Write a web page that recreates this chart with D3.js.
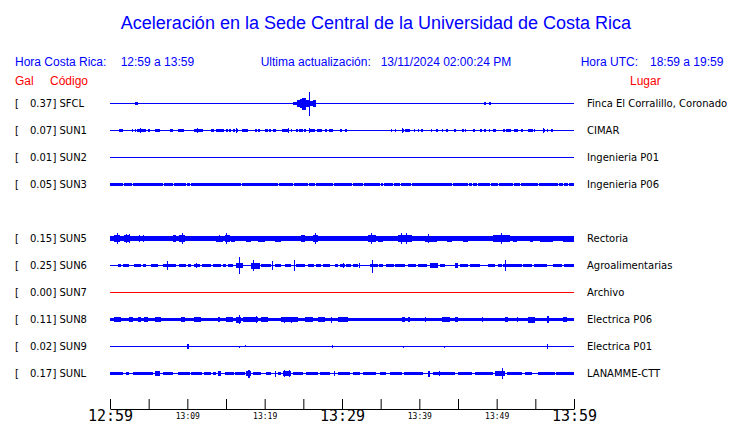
<!DOCTYPE html>
<html><head><meta charset="utf-8">
<script src="https://cdn.jsdelivr.net/npm/d3@7"></script>
<style>body{margin:0;background:#fff}svg{display:block}</style>
</head><body><svg id="c" width="740" height="423"></svg>
<script>
// ---- data ----
const codes   = ["SFCL","SUN1","SUN2","SUN3","SUN4","SUN5","SUN6","SUN7","SUN8","SUN9","SUNL"];
const peakGal = [0.37, 0.07, 0.01, 0.05, null, 0.15, 0.25, 0.00, 0.11, 0.02, 0.17];
const places  = ["Finca El Corralillo, Coronado","CIMAR","Ingenieria P01","Ingenieria P06",null,
                 "Rectoria","Agroalimentarias","Archivo","Electrica P06","Electrica P01","LANAMME-CTT"];
const baseGal = [0.017,0.017,0.017,0.055,null,0.075,0.017,0.017,0.057,0.017,0.017];
const traceColor = ["blue","blue","blue","blue",null,"blue","blue","red","blue","blue","blue"];
// events: [startMin, endMin, ampUpGal, ampDownGal?]  (minutes after 12:59)
const evSFCL = [[2.0,2.13,0,0.033],[3.2,3.65,0.04],[11.9,12.03,0.033,0],
  [23.66,24.18,0.035],[24.18,24.53,0.12],[24.53,24.88,0.16],[24.88,25.4,0.2],[25.4,25.7,0.13],
  [25.7,25.92,0.37,0.41],[25.92,26.25,0.07],[26.25,26.6,0.12],
  [40.3,40.43,0,0.033],[48.35,48.6,0.045],[49.0,49.25,0.045],[56.5,56.63,0,0.033]];
const evSUN1 = [[1.1,1.7,0.045],[2.8,3.0,0.045],[3.2,3.4,0.045],[3.5,4.1,0.045],[3.9,4.0,0.09],[4.2,4.7,0.045],
  [4.9,5.2,0.045],[5.85,6.5,0.045],[7.45,7.55,0.03],[7.7,8.1,0.045],[8.8,9.0,0.045],[9.1,9.6,0.045],
  [10.9,12.0,0.05],[11.25,11.35,0.09],[13.0,13.5,0.045],[13.75,14.7,0.045],[14.95,15.2,0.045],[15.4,15.7,0.045],
  [15.85,16.1,0.045],[16.3,16.6,0.045],[16.35,16.45,0.09],[17.05,17.85,0.05],[18.8,19.0,0.045],[19.2,19.4,0.045],
  [20.0,20.4,0.045],[20.5,20.8,0.045],[21.1,21.5,0.045],[22.2,23.0,0.05],[23.05,23.15,0.09],[23.45,23.55,0.045],
  [24.1,24.3,0.045],[24.5,24.9,0.045],[25.1,25.4,0.045],[25.7,26.5,0.045],[25.7,25.8,0.09],[26.8,27.4,0.045],
  [27.8,28.1,0.045],[28.3,28.8,0.045],[29.7,30.05,0.045],[30.35,30.7,0.045],[32.05,32.15,0.03],[36.3,36.5,0.045],
  [36.8,37.0,0.045],[37.7,38.0,0.045],[37.8,37.9,0.09],[38.2,38.8,0.045],[39.3,39.4,0.045],[39.85,40.0,0.045],
  [40.2,40.5,0.045],[41.5,41.7,0.045],[42.2,42.4,0.045],[42.9,43.1,0.045],[43.4,43.7,0.045],[44.5,44.8,0.045],
  [45.5,45.8,0.045],[45.9,46.0,0.045],[47.0,47.2,0.045],[47.8,48.05,0.045],[48.35,48.6,0.045],[49.0,49.2,0.045],
  [49.55,49.85,0.045],[50.85,51.05,0.045],[51.2,51.9,0.055],[52.2,52.8,0.055],[53.15,53.35,0.045],[53.6,53.7,0.03],
  [54.1,54.65,0.055],[54.8,54.95,0.045],[55.95,56.2,0.045],[56.05,56.15,0.09],[56.55,56.7,0.045],[57.0,57.25,0.045],
  [57.9,58.0,0.03]];
const evSUN2 = [];
const evSUN3 = [1.65,2.9,6.85,8.2,9.85,10.4,16.9,21.7,23.65,25.6,26.5,28.85,31.35,32.7,34.9,35.3,36.6,37.5,38.9,
  44.25,46.3,46.75,47.4,49.1,50.2,52.15,53.0,55.4,57.95,58.55,59.25].map(t => [t, t+0.13, 0.02]);
const evSUN4 = [];
const evSUN5 = [[0.58,1.23,0.12],[0.88,1.01,0.18],[1.79,2.65,0.115],[2.05,2.15,0.15],[2.47,2.57,0.15],
  [3.6,4.69,0.09],[3.78,3.88,0.117],[4.33,4.43,0.117],[5.33,5.98,0.09],[6.19,7.05,0.085],[7.27,8.78,0.09],[8.13,8.57,0.12],
  [8.87,9.64,0.13],[9.3,9.43,0.183],[9.64,11.81,0.085],[12.23,13.1,0.09],[13.75,14.6,0.1],[14.12,14.22,0.133],
  [14.82,15.47,0.115],[15.0,15.1,0.167],[15.69,16.12,0.1],[16.55,17.41,0.09],[17.63,18.28,0.1],[19.13,20.0,0.1],
  [21.3,22.16,0.1],[24.75,25.18,0.115],[26.25,26.9,0.13],[26.5,26.62,0.167],[29.06,31.0,0.09],[31.65,32.08,0.09],
  [33.37,34.46,0.115],[33.76,33.88,0.167],[34.67,35.31,0.1],[37.26,38.99,0.115],[37.65,37.77,0.167],[38.28,38.4,0.167],
  [40.71,42.23,0.1],[41.08,41.2,0.15],[43.52,44.17,0.1],[45.67,46.32,0.1],[49.55,51.72,0.13],[49.72,49.84,0.183],
  [50.58,50.7,0.183],[52.14,52.58,0.1],[54.3,54.73,0.1],[55.6,57.32,0.1],[58.61,60,0.1],[58.78,58.9,0.15]];
const evSUN6 = [[1.01,1.45,0.045],[1.66,2.52,0.045],[3.08,4.04,0.045],[4.25,4.69,0.045],[5.33,6.19,0.045],
  [6.83,8.57,0.055],[7.42,7.55,0.15],[8.87,9.86,0.045],[10.07,10.42,0.045],[10.85,11.59,0.045],[11.1,11.22,0.083],
  [11.88,13.1,0.045],[13.31,14.39,0.045],[14.6,15.04,0.045],[15.25,15.9,0.045],[16.34,17.19,0.083],[16.7,16.83,0.28],
  [18.28,19.35,0.1],[18.52,18.65,0.167],[19.57,20.87,0.05],[21.0,21.13,0.15],[21.3,22.16,0.045],[22.59,23.46,0.045],
  [23.73,23.86,0.183],[24.1,25.18,0.045],[25.6,26.4,0.045],[26.6,27.34,0.045],[27.55,28.41,0.045],[29.06,29.49,0.045],
  [29.71,30.36,0.045],[30.08,30.2,0.083],[30.58,31.2,0.045],[31.4,32.08,0.045],[32.24,32.36,0.067],[33.59,34.02,0.05],
  [33.83,33.95,0.177,0.243],[34.02,34.6,0.045],[34.8,35.31,0.045],[35.75,36.7,0.045],[36.9,38.12,0.045],
  [38.55,39.6,0.045],[39.8,40.93,0.045],[41.36,42.43,0.067],[42.65,43.3,0.045],[44.6,45.02,0.067],[45.24,46.3,0.045],
  [46.5,47.83,0.045],[48.91,49.77,0.045],[50.2,50.64,0.045],[50.85,53.23,0.055],[51.1,51.22,0.183],[53.44,54.6,0.045],
  [54.8,56.47,0.045],[57.32,58.5,0.045],[58.7,60,0.045]];
const evSUN7 = [];
const evSUN8 = [[0.58,1.45,0.09],[2.52,2.95,0.075],[3.6,4.04,0.075],[4.38,4.89,0.075],[5.76,6.63,0.09],[9.13,9.64,0.075],
  [10.85,11.81,0.09],[13.96,14.17,0.075],[15.04,15.9,0.09],[16.34,16.98,0.1],[16.7,16.82,0.15],[17.19,19.13,0.09],
  [18.87,18.99,0.115],[19.57,20.43,0.075],[22.16,24.31,0.09],[22.53,22.65,0.1],[23.4,23.52,0.1],[25.18,26.25,0.075],
  [26.9,27.77,0.075],[28.57,28.69,0.1],[29.49,30.78,0.075],[37.7,38.12,0.09],[38.55,38.77,0.075],[40.71,40.85,0.075],
  [42.87,43.95,0.09],[44.6,45.02,0.075],[48.05,48.2,0.075],[51.07,51.5,0.09],[52.58,52.79,0.075],[54.08,54.95,0.1],
  [56.47,56.8,0.115],[58.61,59.05,0.09]];
const evSUN9 = [[10.0,10.2,0.067],[16.7,16.83,0,0.05],[17.48,17.6,0.05,0],[17.91,18.03,0.05],[23.09,23.21,0,0.05],
  [26.97,27.09,0.05,0],[28.13,28.25,0,0.05],[28.7,28.82,0.05],[37.84,37.96,0,0.05],[43.24,43.36,0,0.05],[56.48,56.6,0.067]];
const evSUNL = [[0,1.66,0.057],[2.1,2.52,0.057],[2.95,5.54,0.057],[5.76,6.41,0.067],[6.83,8.13,0.057],[8.78,10.3,0.057],
  [10.5,11.9,0.057],[12.1,13.1,0.057],[13.31,13.75,0.057],[13.96,14.39,0.067],[14.82,16.0,0.057],[16.2,17.41,0.057],
  [17.63,18.28,0.083],[17.9,18.04,0.123,0.157],[18.49,19.57,0.057],[20.22,20.87,0.057],[21.3,21.51,0.1],[21.72,22.16,0.057],
  [22.37,23.46,0.083],[22.53,22.65,0.117],[23.18,23.3,0.117],[23.66,24.96,0.057],[25.4,26.9,0.057],[27.12,28.41,0.057],
  [29.0,29.12,0.083],[29.49,31.0,0.057],[31.43,32.3,0.057],[32.73,34.46,0.057],[34.89,35.75,0.057],[36.18,37.8,0.057],
  [38.0,40.49,0.057],[41.14,41.36,0.1],[41.79,44.6,0.057],[42.59,42.71,0.09],[45.02,46.76,0.057],[47.18,49.55,0.057],
  [49.77,51.07,0.067],[50.65,50.79,0.177,0.19],[51.29,53.23,0.057],[53.66,54.52,0.057],[55.38,57.5,0.057],[57.7,60,0.057]];
const events = [evSFCL,evSUN1,evSUN2,evSUN3,evSUN4,evSUN5,evSUN6,evSUN7,evSUN8,evSUN9,evSUNL];
const tickMinutes = d3.range(0, 61, 5);
const labelMinutes = [0,10,20,30,40,50,60];
const tickLabels = ["12:59","13:09","13:19","13:29","13:39","13:49","13:59"];
const bigLabelMinutes = [0,30,60];

// ---- drawing ----
const svg = d3.select("#c");
const BLUE = "#0000ff", RED = "#ff0000";
const x = d3.scaleLinear().domain([0,60]).range([110,574]);
const yRow = d3.scalePoint().domain(codes).range([103.5,373.5]);
const amp = d3.scaleLinear().domain([0,1]).range([0,30]);

function envelope(base, evs){
  const bp = new Set([0,60]);
  evs.forEach(e => { bp.add(e[0]); bp.add(e[1]); });
  const b = [...bp].filter(t => t >= 0 && t <= 60).sort((p,q) => p-q);
  const pts = [];
  for (let i = 0; i < b.length-1; i++){
    const mid = (b[i]+b[i+1])/2;
    let up = base, dn = base;
    evs.forEach(e => { if (mid >= e[0] && mid < e[1]) { up = e[2]; dn = e.length > 3 ? e[3] : e[2]; } });
    pts.push({t:b[i], up:Math.max(up,0.017), dn:Math.max(dn,0.017)});
  }
  const last = pts[pts.length-1];
  pts.push({t:60, up:last.up, dn:last.dn});
  return pts;
}

// header
const hdr = svg.append("g").attr("font-family","'Liberation Sans', Arial, sans-serif");
hdr.append("text").attr("x",376).attr("y",29).attr("text-anchor","middle").attr("font-size",18)
  .attr("fill",BLUE).text("Aceleración en la Sede Central de la Universidad de Costa Rica");
const hdrItems = [
  ["Hora Costa Rica:",15,66,BLUE],["12:59 a 13:59",120.7,66,BLUE],
  ["Ultima actualización:",260.7,66,BLUE],["13/11/2024 02:00:24 PM",380.7,66,BLUE],
  ["Hora UTC:",580.7,66,BLUE],["18:59 a 19:59",650,66,BLUE],
  ["Gal",15,85,RED],["Código",50,85,RED],["Lugar",630,85,RED]];
hdr.selectAll("text.h").data(hdrItems).join("text").attr("class","h")
  .attr("x",d=>d[1]).attr("y",d=>d[2]).attr("font-size",12).attr("fill",d=>d[3]).text(d=>d[0]);

// traces
const rows = codes.map((c,i) => ({code:c, peak:peakGal[i], place:places[i], base:baseGal[i], color:traceColor[i], ev:events[i]}))
  .filter(r => r.peak !== null);

const area = d3.area().curve(d3.curveStepAfter).x(d => x(d.t));
const g = svg.append("g");
rows.forEach(r => {
  const cy = yRow(r.code);
  const pts = envelope(r.base, r.ev);
  g.append("path").datum(pts)
    .attr("d", area.y0(d => cy + amp(d.dn)).y1(d => cy - amp(d.up)))
    .attr("fill", r.color === "red" ? RED : BLUE)
    .attr("shape-rendering","crispEdges");
});

const lab = svg.append("g").attr("font-family","'DejaVu Sans', sans-serif").attr("font-size",10).attr("fill","#000");
const fmt = d3.format(".2f");
rows.forEach(r => {
  const ty = yRow(r.code) + 3.6;
  lab.append("text").attr("x",15).attr("y",ty).text("[");
  lab.append("text").attr("x",52.2).attr("y",ty).attr("text-anchor","end").text(fmt(r.peak));
  lab.append("text").attr("x",52.4).attr("y",ty).text("] " + r.code);
  lab.append("text").attr("x",587).attr("y",ty).text(r.place);
});

// time axis
const axis = d3.axisBottom(x).tickValues(tickMinutes).tickSizeInner(-10).tickSizeOuter(0)
  .tickFormat(m => { const i = labelMinutes.indexOf(m); return i >= 0 ? tickLabels[i] : ""; });
const ax = svg.append("g").attr("transform","translate(0,409)").call(axis);
ax.select(".domain").attr("stroke","#000");
ax.selectAll(".tick line").attr("stroke","#000");
ax.selectAll(".tick text")
  .attr("font-family","'DejaVu Sans Mono', monospace")
  .attr("fill","#000")
  .attr("dy",null)
  .attr("y", m => bigLabelMinutes.includes(m) ? 11.5 : 10)
  .attr("font-size", m => bigLabelMinutes.includes(m) ? 15 : 8);
</script></body></html>
